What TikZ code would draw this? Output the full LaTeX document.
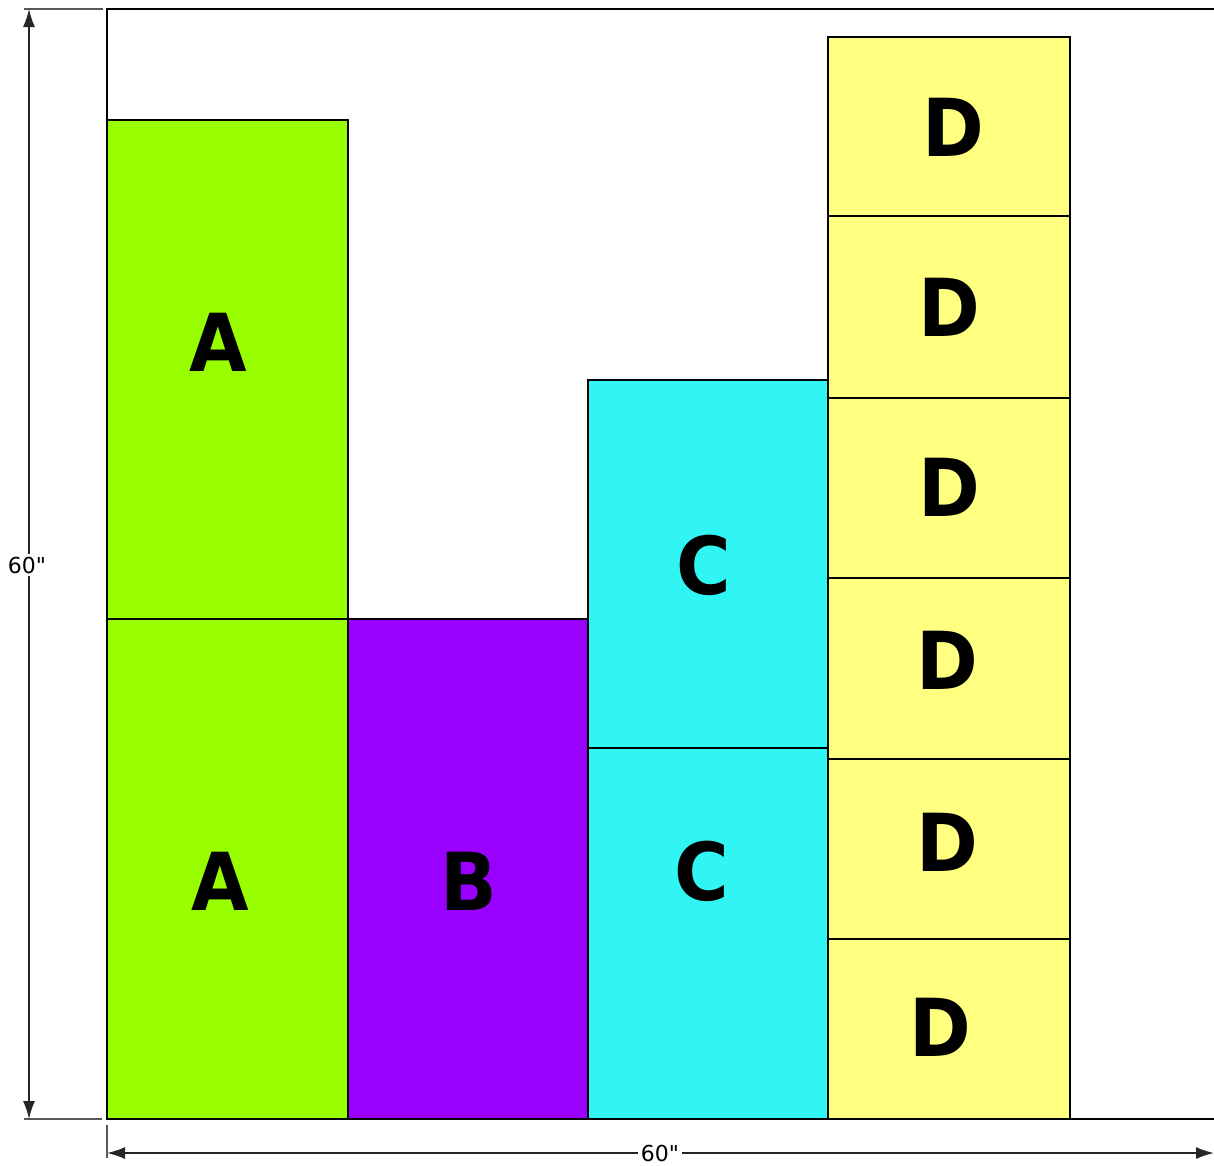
\documentclass[tikz,border=0pt]{standalone}
\usepackage{fontspec}
\setmainfont{DejaVu Sans}
\newfontfamily\dimfont{DejaVu Sans}[Ligatures=TeXOff]
\usetikzlibrary{arrows.meta}
\definecolor{cA}{HTML}{99FF00}
\definecolor{cB}{HTML}{9900FF}
\definecolor{cC}{HTML}{31F5F3}
\definecolor{cD}{HTML}{FFFF80}
\tikzset{
  blk/.style={draw=black, line width=2pt, anchor=north west, inner sep=0pt, outer sep=0pt, rectangle},
  lbl/.style={font=\fontsize{80}{80}\selectfont\bfseries, inner sep=0pt, xscale=0.93},
  dimline/.style={draw=black!85, line width=1.6pt},
  dimtxt/.style={font=\dimfont\fontsize{22}{22}\selectfont, fill=white, inner sep=3pt},
  ext/.style={draw=black!65, line width=1.6pt},
  tip/.style={{Latex[length=18pt,width=12pt]}-{Latex[length=18pt,width=12pt]}}
}
\begin{document}
\begin{tikzpicture}[x=1pt,y=-1pt]
\useasboundingbox (0,0) rectangle (1214,1165);
% blocks
\node[blk, fill=cA, minimum width=241pt, minimum height=499pt] (a1) at (107,120) {};
\node[blk, fill=cA, minimum width=241pt, minimum height=500pt] (a2) at (107,619) {};
\node[blk, fill=cB, minimum width=240pt, minimum height=500pt] (b1) at (348,619) {};
\node[blk, fill=cC, minimum width=240pt, minimum height=368pt] (c1) at (588,380) {};
\node[blk, fill=cC, minimum width=240pt, minimum height=371pt] (c2) at (588,748) {};
\node[blk, fill=cD, minimum width=242pt, minimum height=179pt] (d1) at (828,37) {};
\node[blk, fill=cD, minimum width=242pt, minimum height=182pt] (d2) at (828,216) {};
\node[blk, fill=cD, minimum width=242pt, minimum height=180pt] (d3) at (828,398) {};
\node[blk, fill=cD, minimum width=242pt, minimum height=181pt] (d4) at (828,578) {};
\node[blk, fill=cD, minimum width=242pt, minimum height=180pt] (d5) at (828,759) {};
\node[blk, fill=cD, minimum width=242pt, minimum height=180pt] (d6) at (828,939) {};
% labels
\node[lbl] (la1) at (218,342) {A};
\node[lbl] (la2) at (220,881) {A};
\node[lbl] (lb1) at (469,881) {B};
\node[lbl] (lc1) at (704,565) {C};
\node[lbl] (lc2) at (702,871) {C};
\node[lbl] (ld1) at (953,127) {D};
\node[lbl] (ld2) at (949,307) {D};
\node[lbl] (ld3) at (949,487) {D};
\node[lbl] (ld4) at (947,660) {D};
\node[lbl] (ld5) at (947,842) {D};
\node[lbl] (ld6) at (940,1027) {D};
% frame
\coordinate (ftr) at (1214,9);
\coordinate (ftl) at (107,9);
\coordinate (fbl) at (107,1119);
\coordinate (fbr) at (1214,1119);
\draw[line width=2pt, line cap=rect] (ftr) -- (ftl) -- (fbl) -- (fbr);
% dimensions
\coordinate (et1) at (24,9);
\coordinate (et2) at (103,9);
\coordinate (eb1) at (24,1119);
\coordinate (eb2) at (102,1119);
\coordinate (ev1) at (107,1125);
\coordinate (ev2) at (107,1158);
\draw[ext] (et1) -- (et2);
\draw[ext] (eb1) -- (eb2);
\draw[ext] (ev1) -- (ev2);
\coordinate (vt) at (29,9);
\coordinate (vb) at (29,1119);
\coordinate (hl) at (107,1153);
\coordinate (hr) at (1214,1153);
\draw[dimline, tip] (vt) -- (vb);
\draw[dimline, tip] (hl) -- (hr);
\node[dimtxt] (dv) at (27,565) {60"};
\node[dimtxt] (dh) at (660,1153) {60"};
\end{tikzpicture}
\end{document}
